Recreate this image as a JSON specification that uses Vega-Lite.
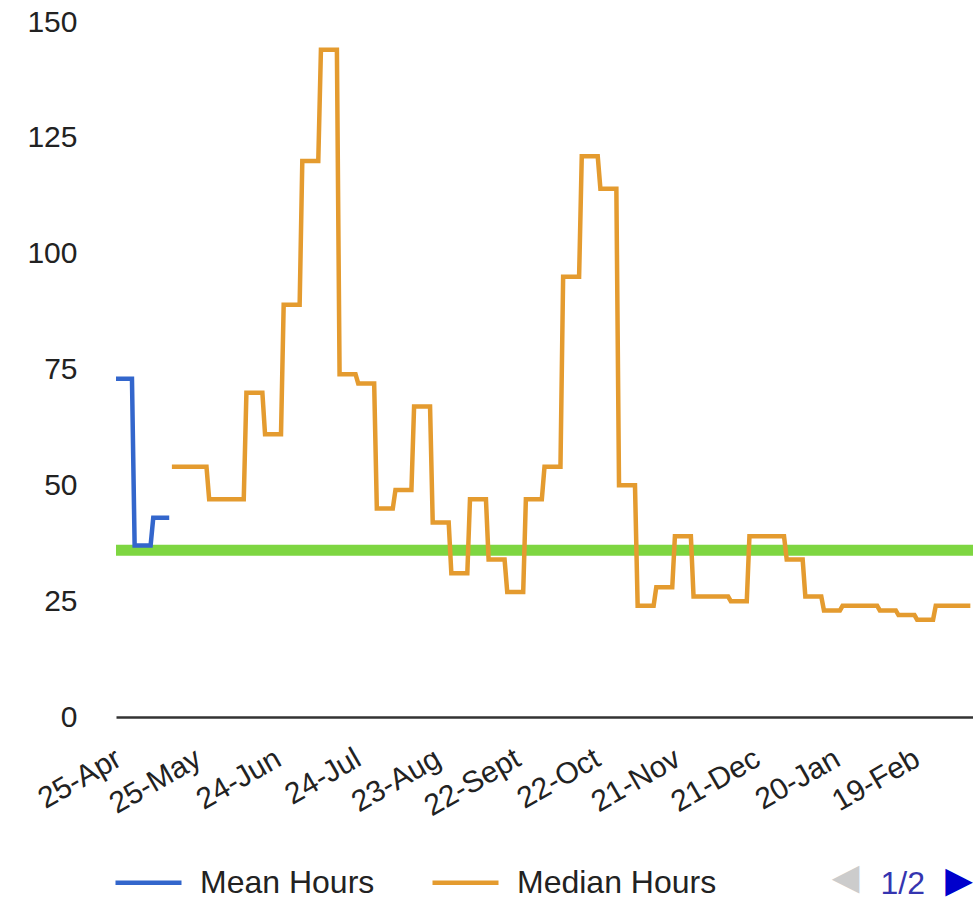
{
  "$schema": "https://vega.github.io/schema/vega-lite/v6.json",
  "width": 857,
  "height": 695,
  "autosize": {"type": "none"},
  "padding": {"left": 116, "top": 22, "right": 0, "bottom": 182},
  "background": "white",
  "config": {"view": {"stroke": null}, "font": "Liberation Sans"},
  "title": {
    "text": "▶",
    "orient": "top",
    "anchor": "end",
    "frame": "group",
    "baseline": "middle",
    "color": "#0000cc",
    "font": "DejaVu Sans",
    "fontSize": 36,
    "fontWeight": "normal",
    "offset": 0,
    "dy": 910
  },
  "data": {
    "values": [
      {"series": "Target", "date": "2020-04-25", "hours": 36},
      {"series": "Target", "date": "2021-03-13", "hours": 36},
      {"series": "Mean Hours", "date": "2020-04-25", "hours": 73},
      {"series": "Mean Hours", "date": "2020-05-01", "hours": 73},
      {"series": "Mean Hours", "date": "2020-05-02", "hours": 37},
      {"series": "Mean Hours", "date": "2020-05-08", "hours": 37},
      {"series": "Mean Hours", "date": "2020-05-09", "hours": 43},
      {"series": "Mean Hours", "date": "2020-05-15", "hours": 43},
      {"series": "Median Hours", "date": "2020-05-16", "hours": 54},
      {"series": "Median Hours", "date": "2020-05-29", "hours": 54},
      {"series": "Median Hours", "date": "2020-05-30", "hours": 47},
      {"series": "Median Hours", "date": "2020-06-12", "hours": 47},
      {"series": "Median Hours", "date": "2020-06-13", "hours": 70},
      {"series": "Median Hours", "date": "2020-06-19", "hours": 70},
      {"series": "Median Hours", "date": "2020-06-20", "hours": 61},
      {"series": "Median Hours", "date": "2020-06-26", "hours": 61},
      {"series": "Median Hours", "date": "2020-06-27", "hours": 89},
      {"series": "Median Hours", "date": "2020-07-03", "hours": 89},
      {"series": "Median Hours", "date": "2020-07-04", "hours": 120},
      {"series": "Median Hours", "date": "2020-07-10", "hours": 120},
      {"series": "Median Hours", "date": "2020-07-11", "hours": 144},
      {"series": "Median Hours", "date": "2020-07-17", "hours": 144},
      {"series": "Median Hours", "date": "2020-07-18", "hours": 74},
      {"series": "Median Hours", "date": "2020-07-24", "hours": 74},
      {"series": "Median Hours", "date": "2020-07-25", "hours": 72},
      {"series": "Median Hours", "date": "2020-07-31", "hours": 72},
      {"series": "Median Hours", "date": "2020-08-01", "hours": 45},
      {"series": "Median Hours", "date": "2020-08-07", "hours": 45},
      {"series": "Median Hours", "date": "2020-08-08", "hours": 49},
      {"series": "Median Hours", "date": "2020-08-14", "hours": 49},
      {"series": "Median Hours", "date": "2020-08-15", "hours": 67},
      {"series": "Median Hours", "date": "2020-08-21", "hours": 67},
      {"series": "Median Hours", "date": "2020-08-22", "hours": 42},
      {"series": "Median Hours", "date": "2020-08-28", "hours": 42},
      {"series": "Median Hours", "date": "2020-08-29", "hours": 31},
      {"series": "Median Hours", "date": "2020-09-04", "hours": 31},
      {"series": "Median Hours", "date": "2020-09-05", "hours": 47},
      {"series": "Median Hours", "date": "2020-09-11", "hours": 47},
      {"series": "Median Hours", "date": "2020-09-12", "hours": 34},
      {"series": "Median Hours", "date": "2020-09-18", "hours": 34},
      {"series": "Median Hours", "date": "2020-09-19", "hours": 27},
      {"series": "Median Hours", "date": "2020-09-25", "hours": 27},
      {"series": "Median Hours", "date": "2020-09-26", "hours": 47},
      {"series": "Median Hours", "date": "2020-10-02", "hours": 47},
      {"series": "Median Hours", "date": "2020-10-03", "hours": 54},
      {"series": "Median Hours", "date": "2020-10-09", "hours": 54},
      {"series": "Median Hours", "date": "2020-10-10", "hours": 95},
      {"series": "Median Hours", "date": "2020-10-16", "hours": 95},
      {"series": "Median Hours", "date": "2020-10-17", "hours": 121},
      {"series": "Median Hours", "date": "2020-10-23", "hours": 121},
      {"series": "Median Hours", "date": "2020-10-24", "hours": 114},
      {"series": "Median Hours", "date": "2020-10-30", "hours": 114},
      {"series": "Median Hours", "date": "2020-10-31", "hours": 50},
      {"series": "Median Hours", "date": "2020-11-06", "hours": 50},
      {"series": "Median Hours", "date": "2020-11-07", "hours": 24},
      {"series": "Median Hours", "date": "2020-11-13", "hours": 24},
      {"series": "Median Hours", "date": "2020-11-14", "hours": 28},
      {"series": "Median Hours", "date": "2020-11-20", "hours": 28},
      {"series": "Median Hours", "date": "2020-11-21", "hours": 39},
      {"series": "Median Hours", "date": "2020-11-27", "hours": 39},
      {"series": "Median Hours", "date": "2020-11-28", "hours": 26},
      {"series": "Median Hours", "date": "2020-12-11", "hours": 26},
      {"series": "Median Hours", "date": "2020-12-12", "hours": 25},
      {"series": "Median Hours", "date": "2020-12-18", "hours": 25},
      {"series": "Median Hours", "date": "2020-12-19", "hours": 39},
      {"series": "Median Hours", "date": "2021-01-01", "hours": 39},
      {"series": "Median Hours", "date": "2021-01-02", "hours": 34},
      {"series": "Median Hours", "date": "2021-01-08", "hours": 34},
      {"series": "Median Hours", "date": "2021-01-09", "hours": 26},
      {"series": "Median Hours", "date": "2021-01-15", "hours": 26},
      {"series": "Median Hours", "date": "2021-01-16", "hours": 23},
      {"series": "Median Hours", "date": "2021-01-22", "hours": 23},
      {"series": "Median Hours", "date": "2021-01-23", "hours": 24},
      {"series": "Median Hours", "date": "2021-02-05", "hours": 24},
      {"series": "Median Hours", "date": "2021-02-06", "hours": 23},
      {"series": "Median Hours", "date": "2021-02-12", "hours": 23},
      {"series": "Median Hours", "date": "2021-02-13", "hours": 22},
      {"series": "Median Hours", "date": "2021-02-19", "hours": 22},
      {"series": "Median Hours", "date": "2021-02-20", "hours": 21},
      {"series": "Median Hours", "date": "2021-02-26", "hours": 21},
      {"series": "Median Hours", "date": "2021-02-27", "hours": 24},
      {"series": "Median Hours", "date": "2021-03-12", "hours": 24}
    ]
  },
  "encoding": {
    "x": {
      "field": "date",
      "type": "temporal",
      "scale": {
        "type": "utc",
        "domain": [
          {"year": 2020, "month": 4, "date": 25, "utc": true},
          {"year": 2021, "month": 3, "date": 13, "utc": true}
        ]
      },
      "axis": {
        "values": [
          {"year": 2020, "month": 4, "date": 25, "utc": true},
          {"year": 2020, "month": 5, "date": 25, "utc": true},
          {"year": 2020, "month": 6, "date": 24, "utc": true},
          {"year": 2020, "month": 7, "date": 24, "utc": true},
          {"year": 2020, "month": 8, "date": 23, "utc": true},
          {"year": 2020, "month": 9, "date": 22, "utc": true},
          {"year": 2020, "month": 10, "date": 22, "utc": true},
          {"year": 2020, "month": 11, "date": 21, "utc": true},
          {"year": 2020, "month": 12, "date": 21, "utc": true},
          {"year": 2021, "month": 1, "date": 20, "utc": true},
          {"year": 2021, "month": 2, "date": 19, "utc": true}
        ],
        "labelExpr": "utcFormat(datum.value, '%d') + '-' + (utcmonth(datum.value) == 8 ? 'Sept' : utcFormat(datum.value, '%b'))",
        "labelAngle": -30,
        "labelAlign": "right",
        "labelBaseline": "top",
        "labelPadding": 26,
        "labelOffset": -5,
        "labelFont": "Liberation Sans",
        "labelFontSize": 30,
        "labelColor": "#222222",
        "labelOverlap": false,
        "labelFlush": false,
        "labelBound": false,
        "ticks": false,
        "grid": false,
        "domainColor": "#333333",
        "domainWidth": 2.5,
        "title": "◀",
        "titleX": 729,
        "titleY": 160,
        "titleAngle": 0,
        "titleAlign": "center",
        "titleBaseline": "middle",
        "titleColor": "#cccccc",
        "titleFont": "DejaVu Sans",
        "titleFontSize": 36,
        "titleFontWeight": "normal"
      }
    },
    "y": {
      "field": "hours",
      "type": "quantitative",
      "scale": {"domain": [0, 150], "nice": false, "zero": true},
      "axis": {
        "values": [0, 25, 50, 75, 100, 125, 150],
        "domain": false,
        "ticks": false,
        "grid": false,
        "labelPadding": 39,
        "labelFont": "Liberation Sans",
        "labelFontSize": 30,
        "labelColor": "#222222",
        "title": "1/2",
        "titleX": 764,
        "titleY": 861,
        "titleAngle": 0,
        "titleAlign": "left",
        "titleBaseline": "middle",
        "titleColor": "#3535b0",
        "titleFont": "Liberation Sans",
        "titleFontSize": 32,
        "titleFontWeight": "normal"
      }
    }
  },
  "layer": [
    {
      "transform": [{"filter": "datum.series == 'Target'"}],
      "mark": {"type": "line", "color": "#7ed641", "strokeWidth": 11, "strokeCap": "butt"}
    },
    {
      "transform": [{"filter": "datum.series != 'Target'"}],
      "mark": {"type": "line", "strokeWidth": 4.5, "strokeJoin": "miter"},
      "encoding": {
        "color": {
          "field": "series",
          "type": "nominal",
          "scale": {"domain": ["Mean Hours", "Median Hours"], "range": ["#3366cc", "#e49b2f"]},
          "legend": {
            "orient": "none",
            "legendX": -3,
            "legendY": 825,
            "direction": "horizontal",
            "title": null,
            "symbolType": "stroke",
            "symbolSize": 4356,
            "symbolStrokeWidth": 4.5,
            "labelFont": "Liberation Sans",
            "labelFontSize": 32,
            "labelColor": "#222222",
            "labelLimit": 500,
            "labelOffset": 16,
            "columnPadding": 48,
            "values": ["Mean Hours", "Median Hours"]
          }
        }
      }
    }
  ]
}
